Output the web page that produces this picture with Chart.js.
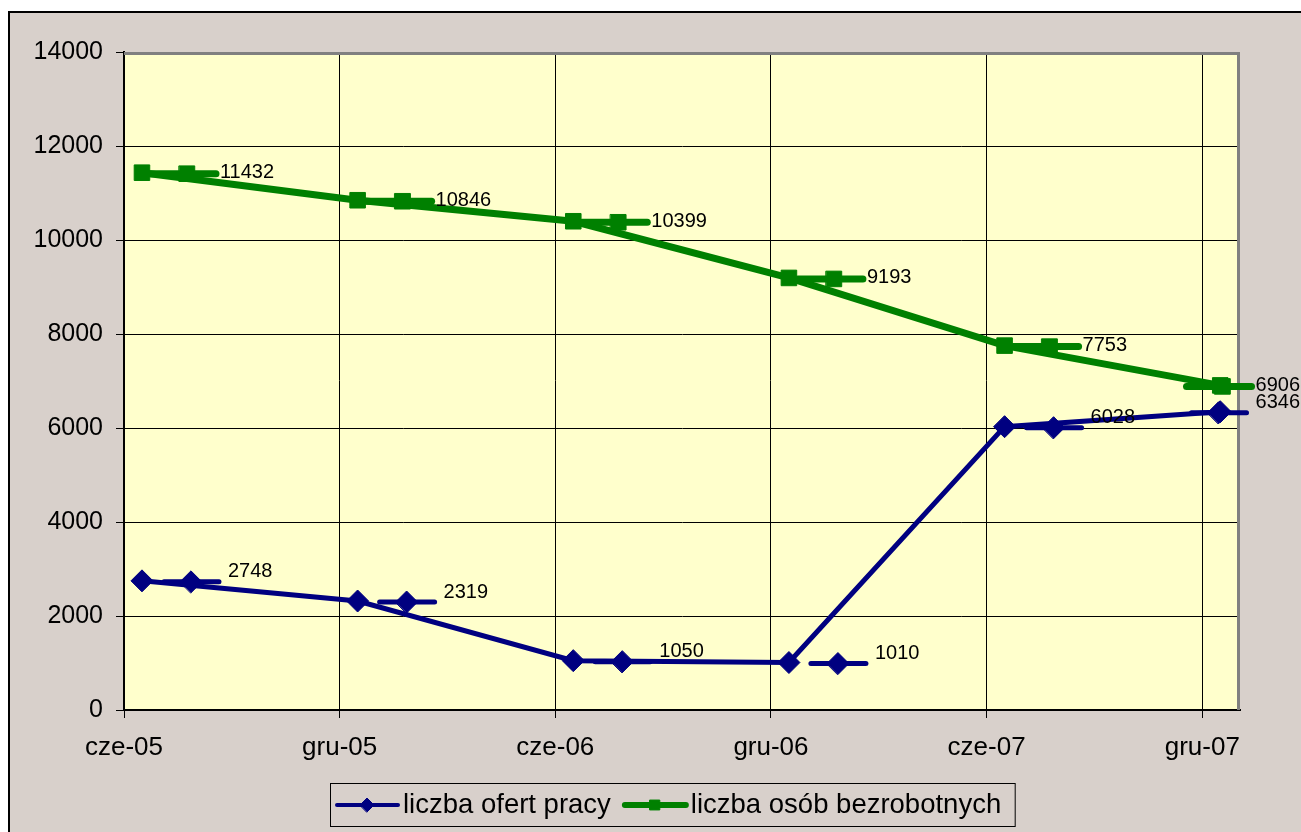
<!DOCTYPE html>
<html>
<head>
<meta charset="utf-8">
<script src="https://cdn.jsdelivr.net/npm/chart.js@4.4.1/dist/chart.umd.min.js"></script>
<style>
  html, body { margin: 0; padding: 0; background: #fff; }
  #wrap { width: 1301px; height: 832px; }
</style>
</head>
<body>
<div id="wrap"><canvas id="chart" width="1301" height="832"></canvas></div>
<script>
// dane
const xLabels = ['cze-05', 'gru-05', 'cze-06', 'gru-06', 'cze-07', 'gru-07'];
const monthPos = [0.5, 6.5, 12.5, 18.5, 24.5, 30.5]; // połowa miesiąca, licząc od cze-05
const ofertyPracy = [2748, 2319, 1050, 1010, 6028, 6346];
const bezrobotni = [11432, 10846, 10399, 9193, 7753, 6906];
const yTicks = [0, 2000, 4000, 6000, 8000, 10000, 12000, 14000];
const seriesNames = ['liczba ofert pracy', 'liczba osób bezrobotnych'];

const FONT = 'Arial, "Liberation Sans", sans-serif';
Chart.defaults.font.family = FONT;
Chart.defaults.color = '#000';

const toPoints = vals => vals.map((v, i) => ({ x: monthPos[i], y: v }));

// wygląd kluczy legendy przy etykietach
const keyStyle = [
  { color: '#000080', lw: 5, style: 'rectRot', r: 11, k0: 22, k1: 77, km: 49, tx: 86, ty: -9 },
  { color: '#008000', lw: 7, style: 'rect', r: 11, k0: 9, k1: 74, km: 45, tx: 78, ty: 0 }
];

function drawKey(ctx, s, x0, x1, xm, y, r) {
  ctx.save();
  ctx.strokeStyle = s.color;
  ctx.fillStyle = s.color;
  ctx.lineWidth = s.lw;
  ctx.lineCap = 'round';
  ctx.beginPath();
  ctx.moveTo(x0, y);
  ctx.lineTo(x1, y);
  ctx.stroke();
  ctx.lineWidth = 1;
  Chart.helpers.drawPoint(ctx, { pointStyle: s.style, radius: r, rotation: 0, borderWidth: 1 }, xm, y);
  ctx.restore();
}

const excelLook = {
  id: 'excelLook',
  beforeDraw(chart) {
    const { ctx, width, height, chartArea: a } = chart;
    ctx.save();
    ctx.fillStyle = '#fff';
    ctx.fillRect(0, 0, width, height);
    ctx.fillStyle = '#d8d0cb';
    ctx.fillRect(9, 12, width - 9, height - 12);
    ctx.strokeStyle = '#000';
    ctx.lineWidth = 2;
    ctx.beginPath();
    ctx.moveTo(9, height);
    ctx.lineTo(9, 12);
    ctx.lineTo(width, 12);
    ctx.stroke();
    ctx.fillStyle = '#ffffcc';
    ctx.fillRect(a.left, a.top, a.right - a.left, a.bottom - a.top);
    ctx.restore();
  },
  beforeDatasetsDraw(chart) {
    const { ctx, chartArea: a } = chart;
    ctx.save();
    ctx.strokeStyle = '#808080';
    ctx.lineWidth = 3;
    ctx.beginPath();
    ctx.moveTo(a.left, a.top + 1.5);
    ctx.lineTo(a.right - 1.5, a.top + 1.5);
    ctx.lineTo(a.right - 1.5, a.bottom);
    ctx.stroke();
    ctx.restore();
  },
  afterDatasetsDraw(chart) {
    const { ctx, width } = chart;
    ctx.save();
    ctx.font = '20px ' + FONT;
    ctx.textBaseline = 'middle';
    ctx.textAlign = 'left';
    chart.data.datasets.forEach((ds, di) => {
      const s = keyStyle[di];
      chart.getDatasetMeta(di).data.forEach((pt, i) => {
        const txt = String(ds.data[i].y);
        const w = ctx.measureText(txt).width;
        let shift = 0;
        if (pt.x + s.tx + w > width - 1) shift = (width - 1 - w) - (pt.x + s.tx);
        const bx = pt.x + shift;
        drawKey(ctx, s, bx + s.k0, bx + s.k1, bx + s.km, pt.y + 1, s.r);
        ctx.fillStyle = '#000';
        ctx.fillText(txt, bx + s.tx, pt.y + s.ty);
      });
    });
    ctx.restore();
  },
  afterDraw(chart) {
    const { ctx } = chart;
    ctx.save();
    ctx.font = '27.5px ' + FONT;
    const top = 783.5, h = 43, cy = 805;
    let x = 337;
    const parts = [];
    seriesNames.forEach((name, i) => {
      const w = ctx.measureText(name).width;
      parts.push({ x, w, name, s: keyStyle[i] });
      x += 61 + 5 + w + 14;
    });
    const boxLeft = 330.5, boxRight = x;
    ctx.strokeStyle = '#000';
    ctx.lineWidth = 1;
    ctx.strokeRect(boxLeft, top, boxRight - boxLeft, h);
    parts.forEach(p => {
      drawKey(ctx, Object.assign({}, p.s, { lw: p.s.lw - 1 }), p.x, p.x + 61, p.x + 30, cy, 7);
      ctx.fillStyle = '#000';
      ctx.textBaseline = 'middle';
      ctx.fillText(p.name, p.x + 66, cy);
    });
    ctx.restore();
  }
};

new Chart(document.getElementById('chart'), {
  type: 'line',
  data: {
    datasets: [
      {
        label: seriesNames[0],
        data: toPoints(ofertyPracy),
        borderColor: '#000080',
        backgroundColor: '#000080',
        borderWidth: 5,
        pointStyle: 'rectRot',
        pointRadius: 11,
        pointBorderWidth: 1,
        tension: 0
      },
      {
        label: seriesNames[1],
        data: toPoints(bezrobotni),
        borderColor: '#008000',
        backgroundColor: '#008000',
        borderWidth: 7,
        pointStyle: 'rect',
        pointRadius: 11,
        pointBorderWidth: 1,
        tension: 0
      }
    ]
  },
  options: {
    responsive: false,
    animation: false,
    layout: { padding: { left: 0, top: 52, right: 61, bottom: 0 } },
    plugins: {
      legend: { display: false },
      tooltip: { enabled: false }
    },
    scales: {
      x: {
        type: 'linear',
        min: 0,
        max: 31.05,
        afterFit: s => { s.height = 122; },
        grid: { color: '#000', lineWidth: 1, tickLength: 8, tickColor: '#000' },
        border: { color: '#000', width: 2 },
        ticks: {
          stepSize: 6,
          includeBounds: false,
          autoSkip: false,
          maxRotation: 0,
          padding: 14,
          font: { size: 26 },
          callback: v => xLabels[v / 6] ?? ''
        }
      },
      y: {
        min: yTicks[0],
        max: yTicks[yTicks.length - 1],
        afterFit: s => { s.width = 124; },
        grid: { color: '#000', lineWidth: 1, tickLength: 8, tickColor: '#000' },
        border: { color: '#000', width: 2 },
        ticks: {
          stepSize: yTicks[1] - yTicks[0],
          padding: 13,
          font: { size: 25 },
          callback: v => String(v)
        }
      }
    }
  },
  plugins: [excelLook]
});
</script>
</body>
</html>
